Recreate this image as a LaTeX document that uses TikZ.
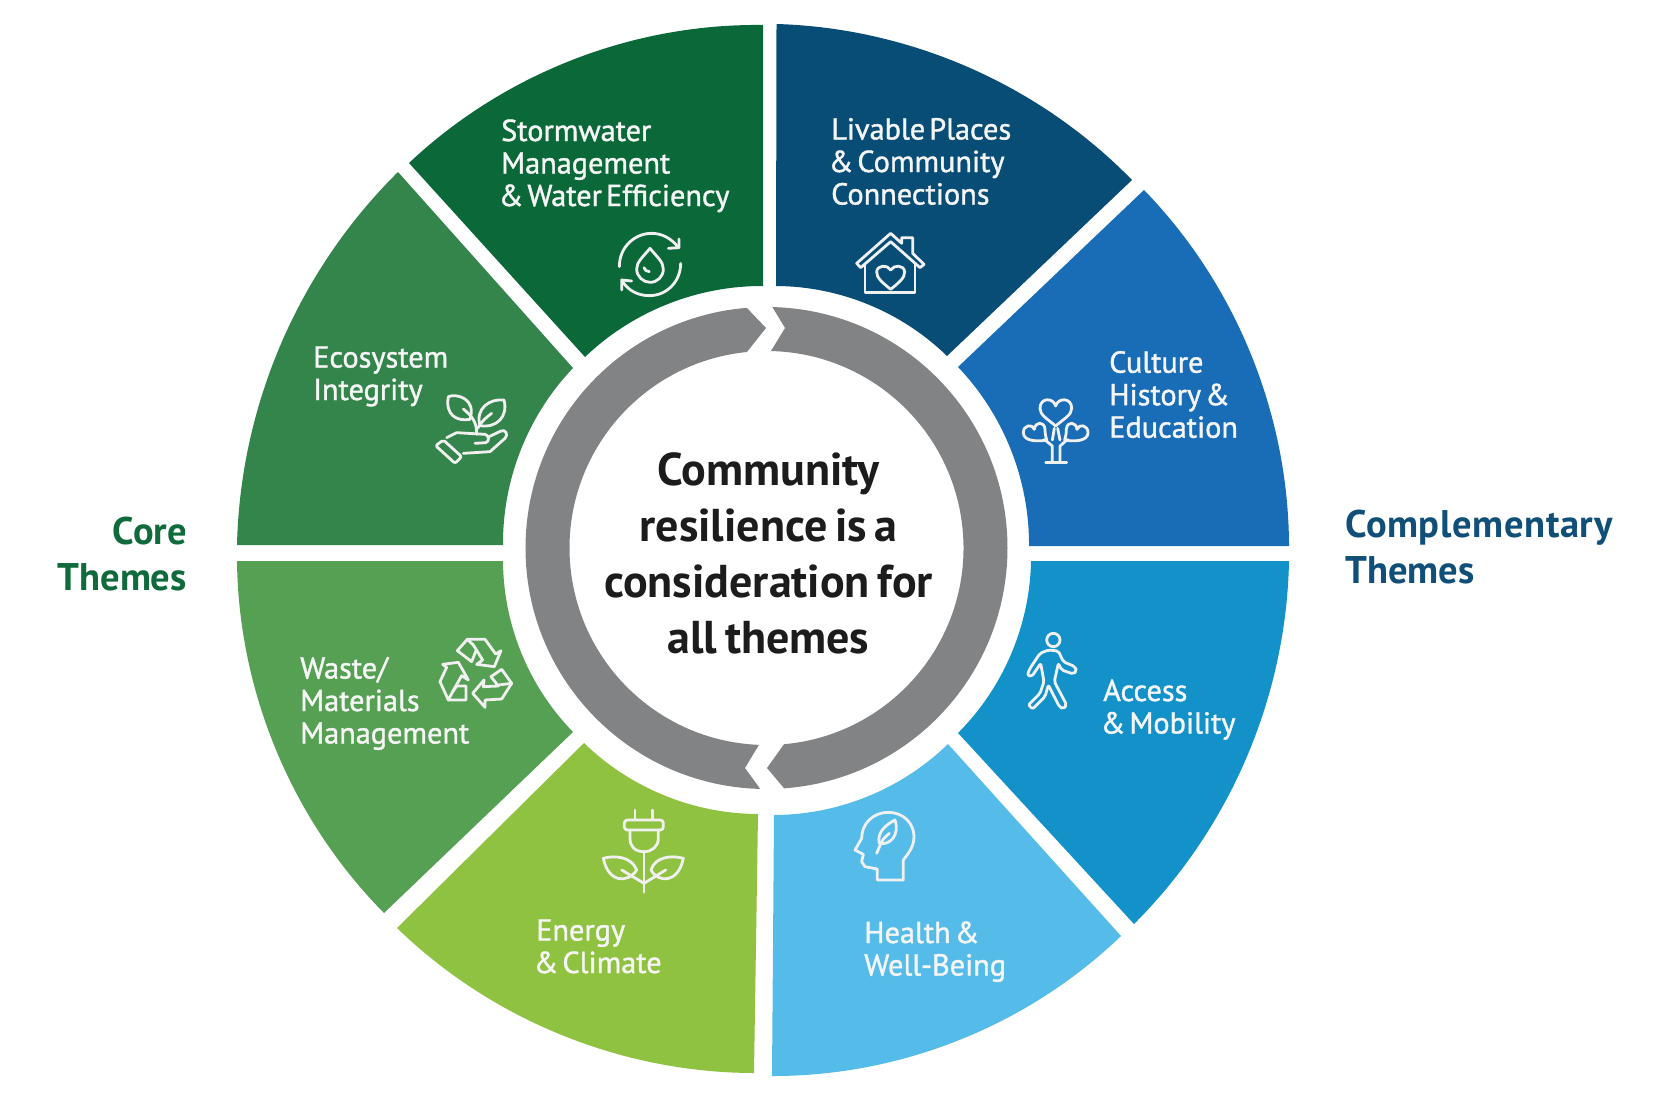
\documentclass[tikz,border=0pt]{standalone}
\usepackage{fontspec}
\usetikzlibrary{calc}
\setmainfont{PT Sans}
\newfontfamily\lblfont[FakeBold=1.3,WordSpace=0.5]{PT Sans}
\newfontfamily\headfont[WordSpace=0.65]{PT Sans}
\definecolor{cStorm}{HTML}{0B6839}
\definecolor{cLive}{HTML}{074D76}
\definecolor{cEco}{HTML}{34854B}
\definecolor{cCult}{HTML}{186DB6}
\definecolor{cWaste}{HTML}{55A052}
\definecolor{cAcc}{HTML}{1292C8}
\definecolor{cEner}{HTML}{8FC240}
\definecolor{cHeal}{HTML}{55BBE8}
\definecolor{cGrey}{HTML}{828385}
\definecolor{cInk}{HTML}{1C1C1C}
\definecolor{cCore}{HTML}{0F6A3C}
\definecolor{cComp}{HTML}{0F4F78}
\newcommand{\amp}{\kern-2.5pt\&}
\tikzset{
  outerarc/.style={bend left=22,looseness=.88},
  innerarc/.style={bend right=22,looseness=.88},
  themelabel/.style={anchor=base west,inner sep=0pt,align=left,text=white!96!black,font=\lblfont\fontsize{30.3}{32.5}\selectfont},
  centrelabel/.style={anchor=center,inner sep=0pt,align=center,text=cInk,font=\headfont\bfseries\fontsize{46}{56}\selectfont},
  sidelabel/.style={anchor=base west,inner sep=0pt,font=\bfseries\fontsize{38.5}{46}\selectfont},
  iconline/.style={draw=white!94!black,line width=2.8pt,line join=round,line cap=round},
  crop/.style={shift={#1},x=.33333pt,y=-.33333pt},
}
\begin{document}
\begin{tikzpicture}[x=1pt,y=-1pt]
\useasboundingbox (0,0) rectangle (1667,1097);
\fill[white] (0,0) rectangle (1667,1097);
% wheel segments
\fill[cStorm] (409,163) to[outerarc] (763,25) -- (763,286) to[innerarc] (585,357) -- cycle;
\fill[cLive] (776.5,24) to[outerarc] (1132,180) -- (947,356) to[innerarc] (776,286) -- cycle;
\fill[cCult] (1144,190) to[outerarc] (1289,546) -- (1029,546) to[innerarc] (958,367) -- cycle;
\fill[cAcc] (1289,561) to[outerarc] (1134,924) -- (958,733) to[innerarc] (1031,561) -- cycle;
\fill[cHeal] (1121,936) to[outerarc] (772,1076) -- (774,815) to[innerarc] (948,744) -- cycle;
\fill[cEner] (754,1073) to[outerarc] (397,928) -- (584,743) to[innerarc] (758,814) -- cycle;
\fill[cWaste] (384,913) to[outerarc] (237,561) -- (503,561) to[innerarc] (573,732) -- cycle;
\fill[cEco] (237,545) to[outerarc] (398,172) -- (573,368) to[innerarc] (503,545) -- cycle;
% grey ring arrows
\coordinate (ringc) at (766.5,548);
\fill[cGrey] ($(ringc)+(268.5:241pt)$) arc[start angle=268.5,end angle=94.7,radius=241pt]
  -- (766,328) -- ($(ringc)+(95.7:197pt)$) arc[start angle=95.7,end angle=267.8,radius=197pt]
  -- (745,768) -- cycle;
\fill[cGrey] ($(ringc)+(88.6:241pt)$) arc[start angle=88.6,end angle=-85.8,radius=241pt]
  -- (767,768) -- ($(ringc)+(-84.9:197pt)$) arc[start angle=-84.9,end angle=88.7,radius=197pt]
  -- (785,328) -- cycle;
% labels
\node[themelabel] (storm) at (501,206) {Stormwater\\Management\\\amp{} Water Efficiency};
\node[themelabel] (live) at (831,204.5) {Livable Places\\\amp{} Community\\Connections};
\node[themelabel] (cult) at (1109,437.7) {Culture\\History \&\\Education};
\node[themelabel] (eco) at (313,400) {Ecosystem\\Integrity};
\node[themelabel] (waste) at (300,743.5) {Waste/\\Materials\\Management};
\node[themelabel] (acc) at (1103,733.5) {Access\\\amp{} Mobility};
\node[themelabel] (ener) at (536,973) {Energy\\\amp{} Climate};
\node[themelabel] (heal) at (864,975.5) {Health \&\\Well-Being};
\node[centrelabel] (centre) at (768.5,553) {Community\\resilience is a\\consideration for\\all themes};
\node[sidelabel,anchor=base east,text=cCore,align=right] (core) at (187,590) {Core\\Themes};
\node[sidelabel,text=cComp,align=left] (comp) at (1345,583) {\addfontfeature{LetterSpace=1.7}Complementary\\Themes};
% water icon
\begin{scope}[crop={(610,225)}]
\draw[iconline] (28,125) .. controls (28,65) and (75,25) .. (125,25) .. controls (155,25) and (185,40) .. (205,68);
\draw[iconline] (175,70) -- (207,68) -- (207,42);
\draw[iconline] (212,115) .. controls (212,170) and (170,212) .. (118,212) .. controls (85,212) and (55,197) .. (38,170);
\draw[iconline] (35,195) -- (35,165) -- (65,168);
\draw[iconline] (120,70) .. controls (100,95) and (80,110) .. (80,132) .. controls (80,155) and (100,172) .. (120,172) .. controls (142,172) and (160,155) .. (160,132) .. controls (160,110) and (140,95) .. (120,70) -- cycle;
\draw[iconline] (102,128) .. controls (104,135) and (110,140) .. (118,140);
\end{scope}
% house icon
\begin{scope}[crop={(850,225)}]
\draw[iconline] (20,115) -- (122,25) -- (155,55) -- (155,38) -- (188,38) -- (188,85) -- (222,118) -- (210,128) -- (122,50) -- (32,128) -- cycle;
\draw[iconline] (45,118) -- (45,202) -- (195,202) -- (195,118);
\draw[iconline] (122,193) .. controls (100,175) and (78,158) .. (80,140) .. controls (82,120) and (112,118) .. (122,135) .. controls (132,118) and (162,120) .. (164,140) .. controls (166,158) and (144,175) .. (122,193) -- cycle;
\end{scope}
% plant in hand icon
\begin{scope}[crop={(425,385)}]
\draw[iconline] (70,35) .. controls (95,25) and (155,40) .. (135,103) .. controls (95,110) and (60,90) .. (70,35) -- cycle;
\draw[iconline] (237,45) .. controls (195,40) and (150,70) .. (165,122) .. controls (215,130) and (250,95) .. (237,45) -- cycle;
\draw[iconline] (155,148) .. controls (155,120) and (150,100) .. (115,72);
\draw[iconline] (158,130) .. controls (165,115) and (180,100) .. (200,85);
\draw[iconline,rounded corners=2pt] (55,165) -- (110,215) -- (90,235) -- (32,182) -- cycle;
\draw[iconline] (65,158) -- (95,143) -- (180,148) .. controls (192,150) and (195,170) .. (182,173) -- (150,175);
\draw[iconline] (192,155) -- (228,138) .. controls (240,132) and (252,148) .. (240,160) -- (195,200) -- (115,205);
\end{scope}
% heart tree icon
\begin{scope}[crop={(1015,390)}]
\draw[iconline] (122,108) .. controls (95,85) and (75,75) .. (75,55) .. controls (75,22) and (115,22) .. (122,48) .. controls (129,22) and (170,22) .. (170,55) .. controls (170,75) and (148,85) .. (122,108) -- cycle;
\draw[iconline] (95,150) .. controls (70,155) and (25,155) .. (25,128) .. controls (25,105) and (52,100) .. (58,118) .. controls (60,95) and (88,92) .. (90,118) .. controls (90,130) and (92,140) .. (95,150) -- cycle;
\draw[iconline] (149,150) .. controls (174,155) and (219,155) .. (219,128) .. controls (219,105) and (192,100) .. (186,118) .. controls (184,95) and (156,92) .. (154,118) .. controls (154,130) and (152,140) .. (149,150) -- cycle;
\draw[iconline] (88,148) -- (112,168) -- (112,215);
\draw[iconline] (158,148) -- (135,168) -- (135,215);
\draw[iconline] (92,218) -- (155,218);
\draw[iconline] (118,115) -- (112,150);
\draw[iconline] (128,115) -- (135,150);
\end{scope}
% recycle icon
\begin{scope}[crop={(430,630)}]
\draw[iconline] (112,28) -- (165,28) -- (197,72) -- (213,62) -- (193,110) -- (140,103) -- (158,90) -- (130,45) -- (112,28) -- (82,62) -- (125,95) -- (138,62);
\draw[iconline] (38,103) -- (85,97) -- (115,150) -- (95,137) -- (68,185) -- (55,210) -- (30,155) -- (50,112) -- cycle;
\draw[iconline] (55,210) -- (108,210) -- (108,168) -- (80,168) -- (68,185);
\draw[iconline] (128,190) -- (162,150) -- (160,170) -- (205,168) -- (183,140) -- (215,118) -- (245,160) -- (215,207) -- (165,210) -- (165,232) -- cycle;
\draw[iconline] (205,165) -- (245,160);
\end{scope}
% walker icon
\begin{scope}[crop={(1020,625)}]
\draw[iconline] (100,45) circle[radius=20];
\draw[iconline,rounded corners=2pt] (85,75) -- (115,78) -- (130,110) -- (165,125) -- (170,138) -- (160,147) -- (125,135) -- (115,115) -- (103,170) -- (140,240) -- (130,252) -- (118,245) -- (85,180) -- (75,215) -- (38,252) -- (25,240) -- (60,205) -- (72,170) -- (62,115) -- (35,155) -- (22,150) -- (30,130) -- (60,85) -- cycle;
\end{scope}
% plug plant icon
\begin{scope}[crop={(595,805)}]
\draw[iconline] (120,15) -- (120,45);
\draw[iconline] (172,15) -- (172,45);
\draw[iconline,rounded corners=3pt] (88,45) rectangle (205,75);
\draw[iconline] (105,75) -- (105,100) .. controls (105,125) and (120,140) .. (147,140) .. controls (170,140) and (190,125) .. (190,100) -- (190,75);
\draw[iconline] (147,140) -- (147,262);
\draw[iconline] (25,160) .. controls (60,150) and (110,155) .. (125,195) .. controls (100,235) and (40,235) .. (25,160) -- cycle;
\draw[iconline] (265,160) .. controls (230,150) and (180,155) .. (168,195) .. controls (190,235) and (250,235) .. (265,160) -- cycle;
\draw[iconline] (80,195) -- (147,235);
\draw[iconline] (212,195) -- (147,235);
\end{scope}
% head icon
\begin{scope}[crop={(850,805)}]
\draw[iconline] (82,225) -- (82,192) -- (45,185) -- (35,170) -- (40,148) -- (15,135) -- (35,100) .. controls (35,55) and (70,22) .. (115,22) .. controls (160,22) and (192,55) .. (192,95) .. controls (192,125) and (175,145) .. (160,165) -- (160,225) -- cycle;
\draw[iconline] (135,45) .. controls (105,60) and (80,85) .. (88,115) .. controls (120,122) and (150,90) .. (135,45) -- cycle;
\draw[iconline] (80,145) -- (95,110) .. controls (100,100) and (110,92) .. (118,85);
\end{scope}
\end{tikzpicture}
\end{document}
